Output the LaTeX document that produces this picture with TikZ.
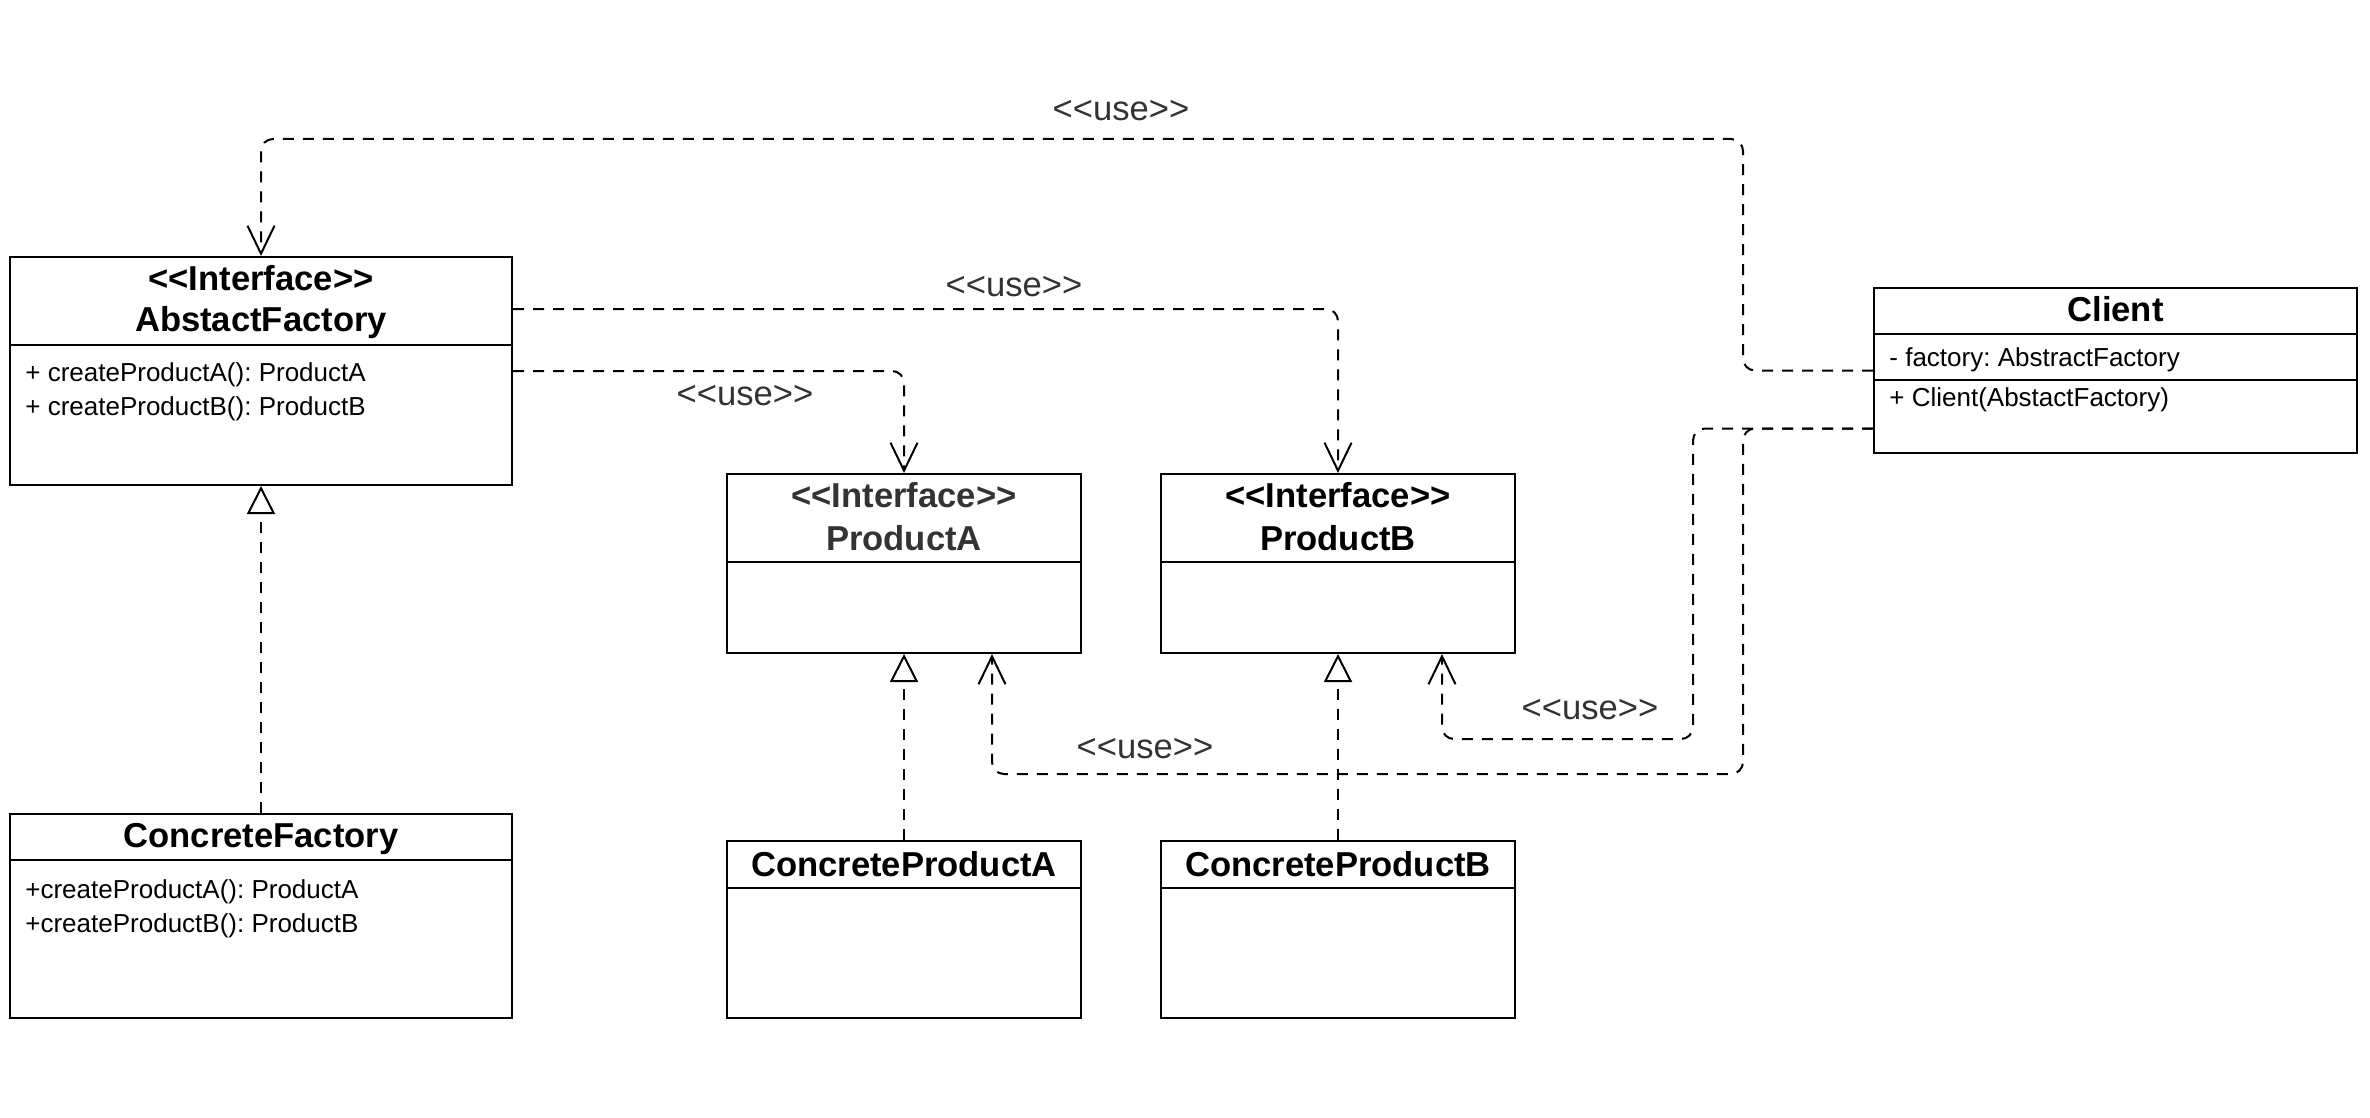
\documentclass[tikz,border=0pt]{standalone}
\usepackage{fontspec}
\setmainfont{Liberation Sans}
\usetikzlibrary{arrows.meta}
\definecolor{lbl}{HTML}{333333}
\newcommand\stlt{<\kern0pt<}
\newcommand\stgt{>\kern0pt>}
\frenchspacing
\begin{document}
\frenchspacing
\begin{tikzpicture}[x=0.5pt,y=-0.5pt,
  box/.style={draw, line width=1pt, rectangle, inner sep=0pt},
  div/.style={line width=1pt},
  ttl/.style={anchor=base, inner sep=0pt, font=\fontsize{17.3}{20}\selectfont\bfseries},
  mem/.style={anchor=base west, inner sep=0pt, font=\fontsize{13}{15}\selectfont},
  lab/.style={anchor=base, inner sep=0pt, text=lbl, font=\fontsize{17.3}{20}\selectfont},
  dep/.style={line width=1pt, dash pattern=on 5.5pt off 4.5pt, rounded corners=6pt,
    -{Straight Barb[length=14pt,width=13.5pt,line width=1pt]}},
  real/.style={line width=1pt, dash pattern=on 5.5pt off 4.5pt,
    -{Triangle[open,length=14pt,width=14pt,line width=1pt]}}
]
\useasboundingbox (0,0) rectangle (2370,1118);

% boxes
\node[box, minimum width=251pt, minimum height=114pt] (af) at (261,371) {};
\node[box, minimum width=251pt, minimum height=102pt] (cf) at (261,916) {};
\node[box, minimum width=177pt, minimum height=89.5pt] (pa) at (904,563.5) {};
\node[box, minimum width=177pt, minimum height=89.5pt] (pb) at (1338,563.5) {};
\node[box, minimum width=177pt, minimum height=88.5pt] (cpa) at (904,929.5) {};
\node[box, minimum width=177pt, minimum height=88.5pt] (cpb) at (1338,929.5) {};
\node[box, minimum width=241.5pt, minimum height=82.5pt] (cl) at (2115.5,370.5) {};

% dividers
\coordinate (dAF) at (0,345);
\coordinate (dCF) at (0,860);
\coordinate (dP) at (0,562);
\coordinate (dCP) at (0,888);
\coordinate (dCL1) at (0,334);
\coordinate (dCL2) at (0,380);
\draw[div] (af.west |- dAF) -- (af.east |- dAF);
\draw[div] (cf.west |- dCF) -- (cf.east |- dCF);
\draw[div] (pa.west |- dP) -- (pa.east |- dP);
\draw[div] (pb.west |- dP) -- (pb.east |- dP);
\draw[div] (cpa.west |- dCP) -- (cpa.east |- dCP);
\draw[div] (cpb.west |- dCP) -- (cpb.east |- dCP);
\draw[div] (cl.west |- dCL1) -- (cl.east |- dCL1);
\draw[div] (cl.west |- dCL2) -- (cl.east |- dCL2);

% texts
\node[ttl] (afs) at (261,290) {\stlt Interface\stgt};
\node[ttl] (afn) at (261,331) {AbstactFactory};
\node[mem] (afm1) at (25,381) {+ createProductA(): ProductA};
\node[mem] (afm2) at (25,415) {+ createProductB(): ProductB};

\node[ttl] (cfn) at (261,847) {ConcreteFactory};
\node[mem] (cfm1) at (25,898) {+createProductA(): ProductA};
\node[mem] (cfm2) at (25,932) {+createProductB(): ProductB};

\node[ttl, text=lbl] (pas) at (904,507) {\stlt Interface\stgt};
\node[ttl, text=lbl] (pan) at (904,550) {ProductA};
\node[ttl] (pbs) at (1338,507) {\stlt Interface\stgt};
\node[ttl] (pbn) at (1338,550) {ProductB};

\node[ttl] (cpan) at (904,876) {ConcreteProductA};
\node[ttl] (cpbn) at (1338,876) {ConcreteProductB};

\node[ttl] (cln) at (2115.5,321) {Client};
\node[mem] (cla) at (1889,366) {- factory: AbstractFactory};
\node[mem] (clm) at (1889,406) {+ Client(AbstactFactory)};

% route points
\coordinate (r1) at (1743,139);
\coordinate (r4) at (1693,739);
\coordinate (r5) at (1743,774);

% dependencies
\draw[dep] (cl.west) -| (r1) -| (af.north);
\draw[dep] ([yshift=31pt]af.east) -| (pb.north);
\draw[dep] (af.east) -| (pa.north);
\draw[dep] ([yshift=-29pt]cl.west) -| (r4) -| ([xshift=52pt]pb.south);
\draw[dep] ([yshift=-29pt]cl.west) -| (r5) -| ([xshift=44pt]pa.south);

% realizations
\draw[real] (cf.north) -- (af.south);
\draw[real] (cpa.north) -- (pa.south);
\draw[real] (cpb.north) -- (pb.south);

% labels
\node[lab] (l1) at (1121,121) {\stlt use\stgt};
\node[lab] (l2) at (1014,296) {\stlt use\stgt};
\node[lab] (l3) at (745,405) {\stlt use\stgt};
\node[lab] (l4) at (1590,719) {\stlt use\stgt};
\node[lab] (l5) at (1145,758) {\stlt use\stgt};
\end{tikzpicture}
\end{document}
